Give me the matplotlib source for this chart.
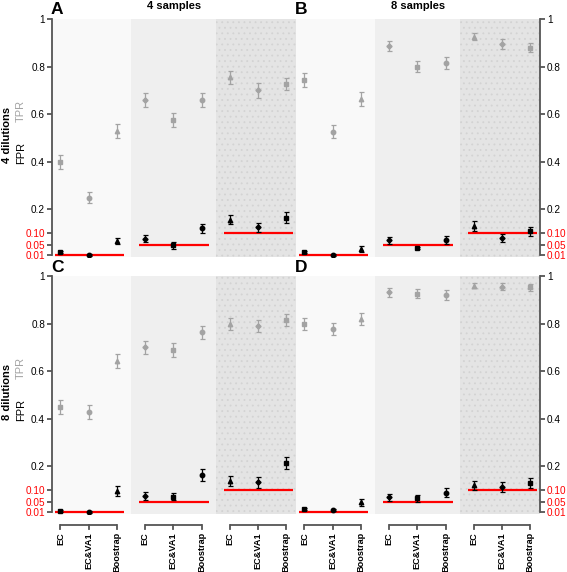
import matplotlib
matplotlib.use("Agg")
import matplotlib.pyplot as plt
import matplotlib.transforms as mtransforms

plt.rcParams['font.family'] = ['Liberation Sans', 'DejaVu Sans']
plt.rcParams['hatch.linewidth'] = 0.6

# ---------------- data ----------------
categories = ["EC", "EC&VA1", "Boostrap"]
alphas = [0.01, 0.05, 0.10]
alpha_labels = ["0.01", "0.05", "0.10"]
section_markers = [["s", "o", "^"], ["D", "s", "o"], ["^", "D", "s"]]
ytick_vals = [0.01, 0.05, 0.10, 0.2, 0.4, 0.6, 0.8, 1.0]
ytick_labels = ["0.01", "0.05", "0.10", "0.2", "0.4", "0.6", "0.8", "1"]

tpr_A = [0.40, 0.25, 0.53, 0.66, 0.575, 0.66, 0.755, 0.70, 0.727]
tpr_A_err = [0.03, 0.025, 0.03, 0.03, 0.03, 0.03, 0.027, 0.03, 0.025]
fpr_A = [0.021, 0.008, 0.067, 0.077, 0.05, 0.12, 0.157, 0.124, 0.165]
fpr_A_err = [0.005, 0.004, 0.013, 0.015, 0.015, 0.02, 0.02, 0.018, 0.023]

tpr_B = [0.744, 0.527, 0.664, 0.887, 0.80, 0.814, 0.926, 0.895, 0.88]
tpr_B_err = [0.028, 0.028, 0.028, 0.021, 0.022, 0.025, 0.015, 0.021, 0.02]
fpr_B = [0.02, 0.008, 0.033, 0.07, 0.038, 0.072, 0.13, 0.08, 0.108]
fpr_B_err = [0.005, 0.004, 0.012, 0.014, 0.006, 0.016, 0.021, 0.016, 0.019]

tpr_C = [0.45, 0.43, 0.643, 0.70, 0.69, 0.763, 0.80, 0.79, 0.815]
tpr_C_err = [0.031, 0.03, 0.03, 0.027, 0.029, 0.027, 0.025, 0.026, 0.025]
fpr_C = [0.012, 0.01, 0.097, 0.076, 0.073, 0.163, 0.14, 0.133, 0.215]
fpr_C_err = [0.004, 0.004, 0.021, 0.017, 0.015, 0.025, 0.021, 0.022, 0.025]

tpr_D = [0.80, 0.777, 0.82, 0.932, 0.926, 0.92, 0.96, 0.955, 0.953]
tpr_D_err = [0.025, 0.024, 0.025, 0.019, 0.019, 0.02, 0.012, 0.015, 0.014]
fpr_D = [0.02, 0.017, 0.05, 0.07, 0.066, 0.09, 0.12, 0.113, 0.13]
fpr_D_err = [0.004, 0.004, 0.015, 0.016, 0.014, 0.019, 0.018, 0.02, 0.022]

panels = [
    ("A", tpr_A, tpr_A_err, fpr_A, fpr_A_err),
    ("B", tpr_B, tpr_B_err, fpr_B, fpr_B_err),
    ("C", tpr_C, tpr_C_err, fpr_C, fpr_C_err),
    ("D", tpr_D, tpr_D_err, fpr_D, fpr_D_err),
]

# ---------------- style ----------------
W, H = 567, 572
TPR_COL = "#a3a3a3"
FPR_COL = "#000000"
AX_COL = "#555555"
BG = ["#f9f9f9", "#efefef", "#e4e4e4"]
XLIM = (0.7, 9.35)

fig = plt.figure(figsize=(W / 100, H / 100), dpi=100)

def fx(px):
    return px / W

def fy(py):
    return 1 - py / H

boxes = {
    "A": (52, 19, 296, 257),
    "B": (296, 19, 540, 257),
    "C": (52, 276, 296, 514),
    "D": (296, 276, 540, 514),
}

for idx, (name, tpr, tpr_err, fpr, fpr_err) in enumerate(panels):
    x0, y0, x1, y1 = boxes[name]
    ax = fig.add_axes([fx(x0), fy(y1), fx(x1) - fx(x0), (y1 - y0) / H])
    ax.set_xlim(*XLIM)
    ax.set_ylim(0, 1)

    # shaded sections
    bounds = [XLIM[0], 3.5, 6.5, XLIM[1]]
    for s in range(3):
        if s == 2:
            ax.axvspan(bounds[s], bounds[s + 1], facecolor=BG[s],
                       edgecolor="#d3d3d3", hatch="...", linewidth=0, zorder=0)
        else:
            ax.axvspan(bounds[s], bounds[s + 1], facecolor=BG[s],
                       edgecolor="none", linewidth=0, zorder=0)

    # red alpha lines
    for s in range(3):
        first = 3 * s + 1
        last = 3 * s + 3
        ax.plot([first - 0.2, last + 0.25], [alphas[s], alphas[s]],
                color="red", lw=1.6, zorder=2, solid_capstyle="butt")

    # points
    for i in range(9):
        s = i // 3
        m = section_markers[s][i % 3]
        x = i + 1
        ms = 3.2 if m != "D" else 2.6
        ax.errorbar(x, tpr[i], yerr=tpr_err[i], fmt=m, color=TPR_COL,
                    ecolor=TPR_COL, elinewidth=0.9, capsize=1.8, capthick=0.9,
                    markersize=ms, zorder=3)
        ax.errorbar(x, fpr[i], yerr=fpr_err[i], fmt=m, color=FPR_COL,
                    ecolor=FPR_COL, elinewidth=0.9, capsize=1.8, capthick=0.9,
                    markersize=ms, zorder=4)

    # axes styling
    for sp in ax.spines.values():
        sp.set_visible(False)
    right = name in ("B", "D")
    side = "right" if right else "left"
    ax.spines[side].set_visible(True)
    ax.spines[side].set_bounds(0.01, 1.0)
    ax.spines[side].set_color(AX_COL)
    ax.spines[side].set_linewidth(1.3)
    ax.set_xticks([])
    ax.set_yticks(ytick_vals)
    ax.set_yticklabels(ytick_labels)
    if right:
        ax.yaxis.tick_right()
    ax.tick_params(axis="y", length=3.5, width=1.3, color=AX_COL, pad=1.5,
                   labelsize=7.2)
    for t, lab in zip(ax.yaxis.get_ticklabels(), ytick_labels):
        if lab in alpha_labels:
            t.set_color("red")
    for tk, lab in zip(ax.yaxis.get_major_ticks(), ytick_labels):
        if lab in alpha_labels:
            tk.tick1line.set_color("red")
            tk.tick2line.set_color("red")

    # category axes at bottom for C and D
    if name in ("C", "D"):
        trans = mtransforms.blended_transform_factory(ax.transData, ax.transAxes)
        off_line = -11 / 238
        off_tick = -15 / 238
        off_lab = -18 / 238
        for s in range(3):
            xs = [3 * s + 1, 3 * s + 2, 3 * s + 3]
            ax.plot([xs[0], xs[-1]], [off_line, off_line], color=AX_COL,
                    lw=1.3, transform=trans, clip_on=False,
                    solid_capstyle="butt")
            for k, xv in enumerate(xs):
                ax.plot([xv, xv], [off_line, off_tick], color=AX_COL, lw=1.3,
                        transform=trans, clip_on=False)
                ax.text(xv, off_lab, categories[k], rotation=90, ha="center",
                        va="top", fontsize=6.6, fontweight="bold",
                        transform=trans)

    # panel letter
    fig.text(fx(x0 + 5), fy(y0 - 9), name, fontsize=12.5, fontweight="bold",
             ha="center", va="center")

# column titles
fig.text(fx(174), fy(6), "4 samples", fontsize=8, fontweight="bold",
         ha="center", va="center")
fig.text(fx(418), fy(6), "8 samples", fontsize=8, fontweight="bold",
         ha="center", va="center")

# row labels
for yc, lab in [(135, "4 dilutions"), (392, "8 dilutions")]:
    fig.text(fx(7), fy(yc), lab, rotation=90, fontsize=8, fontweight="bold",
             ha="center", va="center")
    fig.text(fx(21), fy(yc - 24), "TPR", rotation=90, fontsize=8,
             color=TPR_COL, ha="center", va="center")
    fig.text(fx(21), fy(yc + 18), "FPR", rotation=90, fontsize=8,
             color="black", ha="center", va="center")

fig.savefig("out.png", dpi=100)
